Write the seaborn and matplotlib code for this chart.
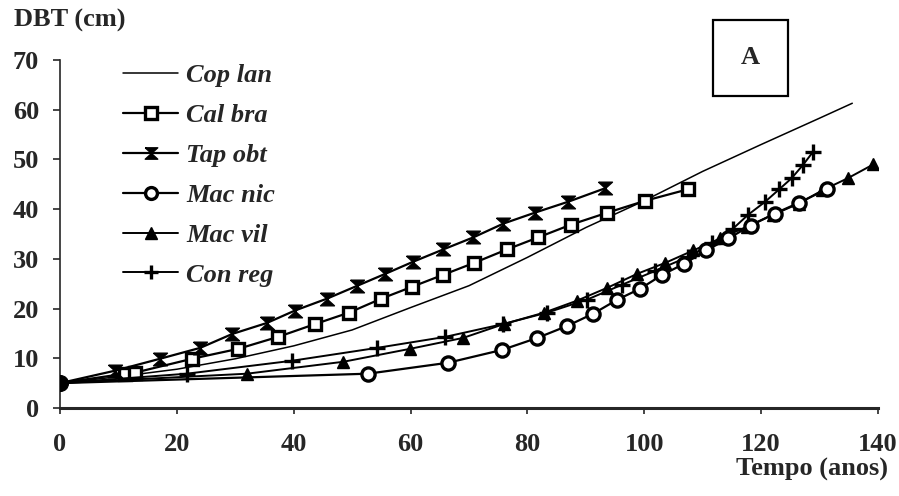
import matplotlib
matplotlib.use("Agg")
import matplotlib.pyplot as plt
import seaborn as sns
from matplotlib.patches import Rectangle
from matplotlib.font_manager import FontProperties

# ---- data ----
cop_lan_t = [0, 10, 20, 30, 40, 50, 60, 70, 80, 90, 100, 110, 120, 130, 135.6]
cop_lan_v = [5, 6.3, 7.8, 9.9, 12.5, 15.7, 20.2, 24.6, 30.3, 36.3, 41.7, 47.6, 53.0, 58.3, 61.3]

cal_bra_t = [0, 11.1, 12.8, 22.6, 30.5, 37.3, 43.7, 49.5, 55.0, 60.3, 65.6, 70.9, 76.5, 81.8, 87.5, 93.7, 100.2, 107.5]
cal_bra_v = [5, 6.9, 7.1, 9.9, 11.9, 14.3, 16.9, 19.2, 22.0, 24.4, 26.8, 29.2, 31.9, 34.3, 36.9, 39.3, 41.7, 44.0]

tap_obt_t = [0, 9.4, 17.1, 24.0, 29.5, 35.4, 40.2, 45.7, 50.9, 55.7, 60.4, 65.6, 70.7, 75.9, 81.3, 87.0, 93.3]
tap_obt_v = [5, 7.5, 9.9, 12.1, 14.9, 17.1, 19.6, 22.0, 24.6, 27.0, 29.4, 31.9, 34.3, 37.1, 39.3, 41.5, 44.2]

mac_nic_t = [0, 52.7, 66.4, 75.7, 81.7, 86.8, 91.3, 95.4, 99.3, 103.1, 106.8, 110.6, 114.4, 118.2, 122.3, 126.5, 131.2]
mac_nic_v = [5, 6.9, 9.1, 11.7, 14.1, 16.5, 19.0, 21.8, 24.0, 26.8, 29.0, 31.7, 34.1, 36.7, 39.1, 41.3, 44.0]

mac_vil_t = [0, 32.0, 48.5, 59.9, 69.0, 76.0, 82.9, 88.5, 93.7, 98.8, 103.6, 108.4, 113.0, 117.6, 122.1, 126.4, 130.5, 134.8, 139.2]
mac_vil_v = [5, 6.9, 9.3, 11.9, 14.1, 16.9, 19.2, 21.6, 24.2, 27.0, 29.2, 31.7, 34.1, 36.5, 38.9, 41.1, 43.8, 46.2, 49.0]

con_reg_t = [0, 21.7, 39.7, 54.3, 65.9, 75.9, 83.4, 90.2, 96.2, 101.9, 107.5, 111.6, 115.2, 117.8, 120.7, 123.1, 125.2, 127.1, 128.8]
con_reg_v = [5, 6.9, 9.5, 12.1, 14.3, 16.9, 19.2, 21.8, 24.8, 27.6, 30.4, 33.1, 36.1, 38.9, 41.5, 44.0, 46.2, 48.8, 51.4]

x_ticks = [0, 20, 40, 60, 80, 100, 120, 140]
y_ticks = [0, 10, 20, 30, 40, 50, 60, 70]

# ---- style ----
sns.set_style("ticks")
plt.rcParams["font.family"] = ["Liberation Serif", "DejaVu Serif"]
plt.rcParams["font.weight"] = "bold"

W, H = 899, 496
fig = plt.figure(figsize=(W / 100, H / 100), dpi=100)
ax = fig.add_axes([60 / W, 1 - 408 / H, 818 / W, 348 / H])

hourglass = [(-1.1, 1), (1.1, 1), (-1.1, -1), (1.1, -1), (-1.1, 1)]
common = dict(color="black", markevery=slice(1, None), sort=False, estimator=None)

sns.lineplot(x=cop_lan_t, y=cop_lan_v, ax=ax, lw=1.1, label="Cop lan", **common)
sns.lineplot(x=cal_bra_t, y=cal_bra_v, ax=ax, lw=1.6, marker="s", markersize=9,
             markerfacecolor="white", markeredgecolor="black", markeredgewidth=2.4,
             label="Cal bra", **common)
sns.lineplot(x=tap_obt_t, y=tap_obt_v, ax=ax, lw=1.6, marker=hourglass, markersize=10,
             markerfacecolor="black", markeredgecolor="black", markeredgewidth=1,
             label="Tap obt", **common)
sns.lineplot(x=mac_vil_t, y=mac_vil_v, ax=ax, lw=1.4, marker="^", markersize=9,
             markerfacecolor="black", markeredgecolor="black", markeredgewidth=1,
             label="Mac vil", zorder=3, **common)
sns.lineplot(x=mac_nic_t, y=mac_nic_v, ax=ax, lw=1.6, marker="o", markersize=9.5,
             markerfacecolor="white", markeredgecolor="black", markeredgewidth=2.4,
             label="Mac nic", zorder=4, **common)
sns.lineplot(x=con_reg_t, y=con_reg_v, ax=ax, lw=1.4, marker="+", markersize=11,
             markeredgecolor="black", markeredgewidth=2.4,
             label="Con reg", zorder=3, **common)

# common starting point (big dot)
sns.scatterplot(x=[cop_lan_t[0]], y=[cop_lan_v[0]], ax=ax, s=130, color="black",
                edgecolor="black", zorder=6, legend=False)

ax.set_xlim(0, 140)
ax.set_ylim(0, 70)
ax.set_xticks(x_ticks)
ax.set_yticks(y_ticks)
ax.set_xticklabels([str(v) for v in x_ticks])
ax.set_yticklabels([str(v) for v in y_ticks])
ax.tick_params(axis="x", direction="out", length=4, width=1.2, pad=14, labelsize=19)
ax.tick_params(axis="y", direction="out", length=5, width=1.2, pad=10, labelsize=19)
for lab in ax.get_xticklabels() + ax.get_yticklabels():
    lab.set_fontweight("bold")

sns.despine(ax=ax)
ax.spines["bottom"].set_linewidth(2.2)
ax.spines["left"].set_linewidth(1.2)

ax.set_xlabel("Tempo (anos)", fontsize=19, fontweight="bold", ha="right", va="center")
ax.xaxis.set_label_coords(1.012, -0.178)
ax.set_ylabel("DBT (cm)", fontsize=19, fontweight="bold", rotation=0, ha="left", va="center")
ax.yaxis.set_label_coords(-0.056, 1.115)

order = ["Cop lan", "Cal bra", "Tap obt", "Mac nic", "Mac vil", "Con reg"]
handles = {ln.get_label(): ln for ln in ax.lines if ln.get_label() in order}
leg = ax.legend([handles[k] for k in order], order, loc="upper left",
                bbox_to_anchor=(123 / W, 1 - 64 / H), bbox_transform=fig.transFigure,
                frameon=False, borderpad=0, borderaxespad=0, handlelength=2.1,
                handletextpad=0.3, labelspacing=0.62, markerscale=0.9,
                prop=FontProperties(family="Liberation Serif", style="italic",
                                    weight="bold", size=19))

fig.patches.append(Rectangle((713 / W, 1 - 96 / H), 75 / W, 76 / H, transform=fig.transFigure,
                             fill=False, lw=1.6, edgecolor="black"))
fig.text(750.5 / W, 1 - 58 / H, "A", ha="center", va="center", fontsize=19, fontweight="bold")

fig.savefig("out.png", dpi=100)
